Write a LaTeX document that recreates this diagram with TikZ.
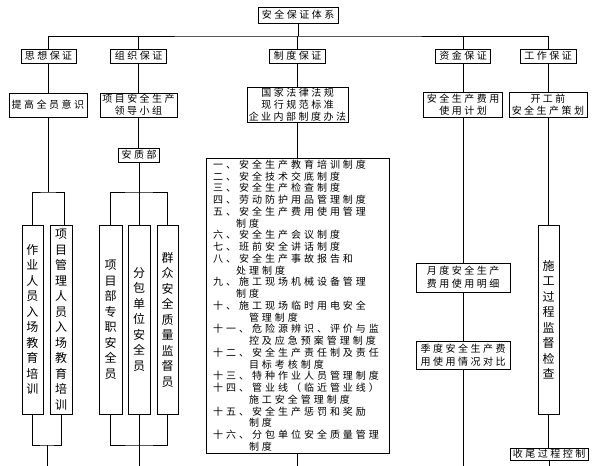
\documentclass[tikz,border=0pt]{standalone}
\usepackage{fontspec}
\newfontfamily\cjk[LetterSpace=25]{Noto Sans CJK SC}
\newfontfamily\cjkb[LetterSpace=30]{Noto Sans CJK SC}
\newfontfamily\cjkv{Noto Sans CJK SC}
\newcommand\hsz{\cjk\fontsize{10}{12}\selectfont}
\newcommand\bsz{\cjkb\fontsize{10}{11.75}\selectfont}
\newcommand\vsz{\cjkv\fontsize{12}{15.5}\selectfont}
\begin{document}
\begin{tikzpicture}[x=1pt,y=-1pt,
  box/.style={draw, line width=0.8pt, inner sep=0pt, align=center, font=\hsz},
  vbox/.style={draw, line width=0.8pt, inner sep=0pt, align=center, font=\vsz, minimum height=189},
  wire/.style={line width=0.8pt}]
\useasboundingbox (0,0) rectangle (598,466);
% level 0
\node[box, minimum width=80, minimum height=16] (top) at (298,15) {安全保证体系};
\coordinate (bus) at (298,36);
% level 1
\node[box, minimum width=55, minimum height=14] (s1) at (48.5,56) {思想保证};
\node[box, minimum width=56, minimum height=14] (s2) at (138.5,56) {组织保证};
\node[box, minimum width=56, minimum height=14] (s3) at (297.5,56) {制度保证};
\node[box, minimum width=55, minimum height=14] (s4) at (463,56) {资金保证};
\node[box, minimum width=56, minimum height=14] (s5) at (548,56) {工作保证};
% level 2
\node[box, minimum width=78, minimum height=24] (t1) at (48,105) {提高全员意识};
\node[box, minimum width=77, minimum height=24] (t2) at (138.5,105) {项目安全生产\\领导小组};
\node[box, minimum width=101, minimum height=35] (t3) at (297.5,104.5) {国家法律法规\\现行规范标准\\企业内部制度办法};
\node[box, minimum width=79, minimum height=25] (t4) at (463,104.5) {安全生产费用\\使用计划};
\node[box, minimum width=78, minimum height=25] (t5) at (548,104.5) {开工前\\安全生产策划};
% column 1
\node[vbox, minimum width=21] (v1) at (32.5,319.5) {作\\业\\人\\员\\入\\场\\教\\育\\培\\训};
\node[vbox, minimum width=22] (v2) at (61,319.5) {项\\目\\管\\理\\人\\员\\入\\场\\教\\育\\培\\训};
% column 2
\node[box, minimum width=41, minimum height=14] (aqb) at (139,155) {安质部};
\node[vbox, minimum width=23] (v3) at (110.5,319.5) {项\\目\\部\\专\\职\\安\\全\\员};
\node[vbox, minimum width=22] (v4) at (139,319.5) {分\\包\\单\\位\\安\\全\\员};
\node[vbox, minimum width=21] (v5) at (167.5,319.5) {群\\众\\安\\全\\质\\量\\监\\督\\员};
% column 3
\node[draw, line width=0.8pt, inner ysep=0pt, inner xsep=7pt, align=left, font=\bsz,
      text width=169, minimum width=183, minimum height=295] (big) at (297.5,305.5) {%
一、安全生产教育培训制度\\
二、安全技术交底制度\\
三、安全生产检查制度\\
四、劳动防护用品管理制度\\
五、安全生产费用使用管理\\
\phantom{五、}制度\\
六、安全生产会议制度\\
七、班前安全讲话制度\\
八、安全生产事故报告和\\
\phantom{八、}处理制度\\
九、施工现场机械设备管理\\
\phantom{九、}制度\\
十、施工现场临时用电安全\\
\phantom{十一、}管理制度\\
十一、危险源辨识、评价与监\\
\phantom{十一、}控及应急预案管理制度\\
十二、安全生产责任制及责任\\
\phantom{十二、}目标考核制度\\
十三、特种作业人员管理制度\\
十四、管业线（临近管业线）\\
\phantom{十四、}施工安全管理制度\\
十五、安全生产惩罚和奖励\\
\phantom{十五、}制度\\
十六、分包单位安全质量管理\\
\phantom{十六、}制度};
% column 4
\node[box, minimum width=94, minimum height=29, font=\cjk\fontsize{10}{13}\selectfont] (m1) at (463,277.5) {月度安全生产\\费用使用明细};
\node[box, minimum width=94, minimum height=28, font=\cjk\fontsize{10}{13}\selectfont] (m2) at (463,355) {季度安全生产费\\用使用情况对比};
% column 5
\node[vbox, minimum width=21] (w1) at (548.5,319.5) {施\\工\\过\\程\\监\\督\\检\\查};
\node[box, minimum width=78, minimum height=12] (w2) at (549,454) {收尾过程控制};
% bottom ends and buses
\coordinate (lb1) at (48,192);
\coordinate (lb2) at (47,445);
\coordinate (lend) at (47,466);
\coordinate (mb1) at (139,192);
\coordinate (mb2) at (139,445);
\coordinate (mend) at (139,466);
\coordinate (bend) at (297.5,466);
\coordinate (fend) at (463,466);
\coordinate (gend) at (548,466);
% connectors
\draw[wire] (top.south) -- (bus);
\draw[wire] (s1.north) |- (bus) -| (s5.north);
\draw[wire] (s2.north) -- (s2.north |- bus);
\draw[wire] (s3.north) -- (s3.north |- bus);
\draw[wire] (s4.north) -- (s4.north |- bus);
\draw[wire] (s1.south) -- (s1.south |- t1.north);
\draw[wire] (s2.south) -- (s2.south |- t2.north);
\draw[wire] (s3.south) -- (t3.north);
\draw[wire] (s4.south) -- (t4.north);
\draw[wire] (s5.south) -- (t5.north);
% column 1
\draw[wire] (t1.south) -- (t1.south |- lb1);
\draw[wire] (v1.north) |- (lb1) -| ([xshift=3pt]v2.north);
\draw[wire] (v1.south) |- (lb2) -| (v2.south);
\draw[wire] (lb2) -- (lend);
% column 2
\draw[wire] (t2.south) -- (t2.south |- aqb.north);
\draw[wire] (aqb.south) -- (v4.north);
\draw[wire] (v3.north) |- (mb1) -| (v5.north);
\draw[wire] (v3.south) |- (mb2) -| (v5.south);
\draw[wire] (v4.south) -- (mend);
% column 3
\draw[wire] (t3.south) -- (big.north);
\draw[wire] (big.south) -- (bend);
% column 4
\draw[wire] (t4.south) -- (m1.north);
\draw[wire] (m1.south) -- (m2.north);
\draw[wire] (m2.south) -- (fend);
% column 5
\draw[wire] (t5.south) -- (t5.south |- w1.north);
\draw[wire] (w1.south) -- (w1.south |- w2.north);
\draw[wire] (w2.south) -- (w2.south |- gend);
\end{tikzpicture}
\end{document}
